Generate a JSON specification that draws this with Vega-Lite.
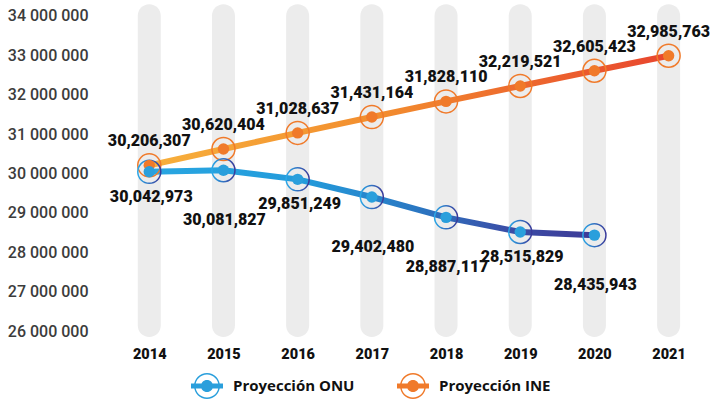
{
  "$schema": "https://vega.github.io/schema/vega-lite/v6.json",
  "width": 611,
  "height": 343,
  "autosize": {"type": "none"},
  "padding": {"left": 100, "top": 0, "right": 0, "bottom": 66},
  "background": "white",
  "config": {"view": {"stroke": null}},
  "data": {
    "values": [
      {"year": 2014, "series": "Proyección INE", "value": 30206307},
      {"year": 2015, "series": "Proyección INE", "value": 30620404},
      {"year": 2016, "series": "Proyección INE", "value": 31028637},
      {"year": 2017, "series": "Proyección INE", "value": 31431164},
      {"year": 2018, "series": "Proyección INE", "value": 31828110},
      {"year": 2019, "series": "Proyección INE", "value": 32219521},
      {"year": 2020, "series": "Proyección INE", "value": 32605423},
      {"year": 2021, "series": "Proyección INE", "value": 32985763},
      {"year": 2014, "series": "Proyección ONU", "value": 30042973},
      {"year": 2015, "series": "Proyección ONU", "value": 30081827},
      {"year": 2016, "series": "Proyección ONU", "value": 29851249},
      {"year": 2017, "series": "Proyección ONU", "value": 29402480},
      {"year": 2018, "series": "Proyección ONU", "value": 28887117},
      {"year": 2019, "series": "Proyección ONU", "value": 28515829},
      {"year": 2020, "series": "Proyección ONU", "value": 28435943}
    ]
  },
  "encoding": {
    "x": {
      "field": "year", "type": "quantitative",
      "scale": {"domain": [2013.4034, 2021.5038], "nice": false, "zero": false},
      "axis": {
        "values": [2014, 2015, 2016, 2017, 2018, 2019, 2020, 2021],
        "format": "d", "title": null, "grid": false, "domain": false, "ticks": false,
        "labelFont": "Roboto", "labelFontWeight": 900, "labelFontSize": 14.5,
        "labelColor": "#111111", "labelPadding": 4
      }
    },
    "y": {
      "field": "value", "type": "quantitative",
      "scale": {"domain": [25700000, 34400000], "nice": false, "zero": false},
      "axis": {
        "values": [26000000, 27000000, 28000000, 29000000, 30000000, 31000000, 32000000, 33000000, 34000000],
        "labelExpr": "replace(format(datum.value, ','), /,/g, ' ')",
        "title": null, "grid": false, "domain": false, "ticks": false,
        "labelFont": "Roboto", "labelFontWeight": 500, "labelFontSize": 16, "labelColor": "#3c3c3c", "labelPadding": 12
      }
    }
  },
  "layer": [
    {
      "transform": [{"filter": "datum.series == 'Proyección INE'"}],
      "mark": {"type": "bar", "width": 23, "cornerRadius": 11.5, "color": "#ececec"},
      "encoding": {
        "y": {"datum": 34290000},
        "y2": {"datum": 25850000}
      }
    },
    {
      "transform": [{"filter": "datum.series == 'Proyección INE'"}],
      "mark": {
        "type": "line", "strokeWidth": 6,
        "stroke": {"gradient": "linear", "x1": 0, "x2": 1, "y1": 0, "y2": 0,
          "stops": [
            {"offset": 0, "color": "#f7b03c"},
            {"offset": 0.45, "color": "#f28c2e"},
            {"offset": 1, "color": "#e8452e"}
          ]}
      },
      "encoding": {}
    },
    {
      "transform": [{"filter": "datum.series == 'Proyección ONU'"}],
      "mark": {
        "type": "line", "strokeWidth": 6,
        "stroke": {"gradient": "linear", "x1": 0, "x2": 1, "y1": 0, "y2": 0,
          "stops": [
            {"offset": 0, "color": "#29a6e1"},
            {"offset": 0.35, "color": "#239bdb"},
            {"offset": 0.6, "color": "#2a77c2"},
            {"offset": 0.8, "color": "#3a4fa8"},
            {"offset": 1, "color": "#3d3a96"}
          ]}
      },
      "encoding": {}
    },
    {
      "transform": [{"filter": "datum.series == 'Proyección INE'"}],
      "mark": {"type": "point", "shape": "circle", "filled": false, "size": 529, "strokeWidth": 1.5, "stroke": "#f07a2a", "opacity": 1},
      "encoding": {}
    },
    {
      "transform": [{"filter": "datum.series == 'Proyección ONU'"}],
      "mark": {"type": "point", "shape": "circle", "filled": false, "size": 529, "strokeWidth": 1.5, "opacity": 1,
        "stroke": {"gradient": "linear", "x1": 0, "x2": 1, "y1": 0, "y2": 0,
          "stops": [
            {"offset": 0, "color": "#2aa8e8"},
            {"offset": 1, "color": "#3a3a9a"}
          ]}},
      "encoding": {}
    },
    {
      "mark": {"type": "point", "shape": "circle", "filled": true, "size": 130, "opacity": 1},
      "encoding": {
        "color": {
          "field": "series", "type": "nominal",
          "scale": {"domain": ["Proyección ONU", "Proyección INE"], "range": ["#2a9fdc", "#f07a2a"]},
          "legend": {
            "title": null, "orient": "none", "direction": "horizontal",
            "legendX": 91, "legendY": 370,
            "symbolType": "M0,-0.81 A0.81,0.81 0 1,1 0,0.81 A0.81,0.81 0 1,1 0,-0.81 Z M0,-0.72 A0.72,0.72 0 1,0 0,0.72 A0.72,0.72 0 1,0 0,-0.72 Z M0,-0.38 A0.38,0.38 0 1,1 0,0.38 A0.38,0.38 0 1,1 0,-0.38 Z M-1,-0.16 L1,-0.16 L1,0.16 L-1,0.16 Z",
            "symbolSize": 1024, "symbolStrokeWidth": 0, "symbolOpacity": 1,
            "labelFont": "Open Sans", "labelFontWeight": "bold", "labelFontSize": 15,
            "labelColor": "#111111", "labelOffset": 10, "columnPadding": 42
          }
        }
      }
    },
    {
      "transform": [{"filter": "datum.series == 'Proyección INE'"}],
      "mark": {"type": "text", "dy": -24, "dx": 0, "baseline": "middle", "align": "center",
        "font": "Roboto", "fontWeight": 900, "fontSize": 16, "color": "#111111"},
      "encoding": {"text": {"field": "value", "type": "quantitative", "format": ","}}
    },
    {
      "transform": [{"filter": "datum.series == 'Proyección ONU' && indexof([2014, 2016, 2019], datum.year) >= 0"}],
      "mark": {"type": "text", "dy": 25, "dx": 2, "baseline": "middle", "align": "center",
        "font": "Roboto", "fontWeight": 900, "fontSize": 16, "color": "#111111"},
      "encoding": {"text": {"field": "value", "type": "quantitative", "format": ","}}
    },
    {
      "transform": [{"filter": "datum.series == 'Proyección ONU' && indexof([2015, 2017, 2018, 2020], datum.year) >= 0"}],
      "mark": {"type": "text", "dy": 50, "dx": 1, "baseline": "middle", "align": "center",
        "font": "Roboto", "fontWeight": 900, "fontSize": 16, "color": "#111111"},
      "encoding": {"text": {"field": "value", "type": "quantitative", "format": ","}}
    }
  ]
}
